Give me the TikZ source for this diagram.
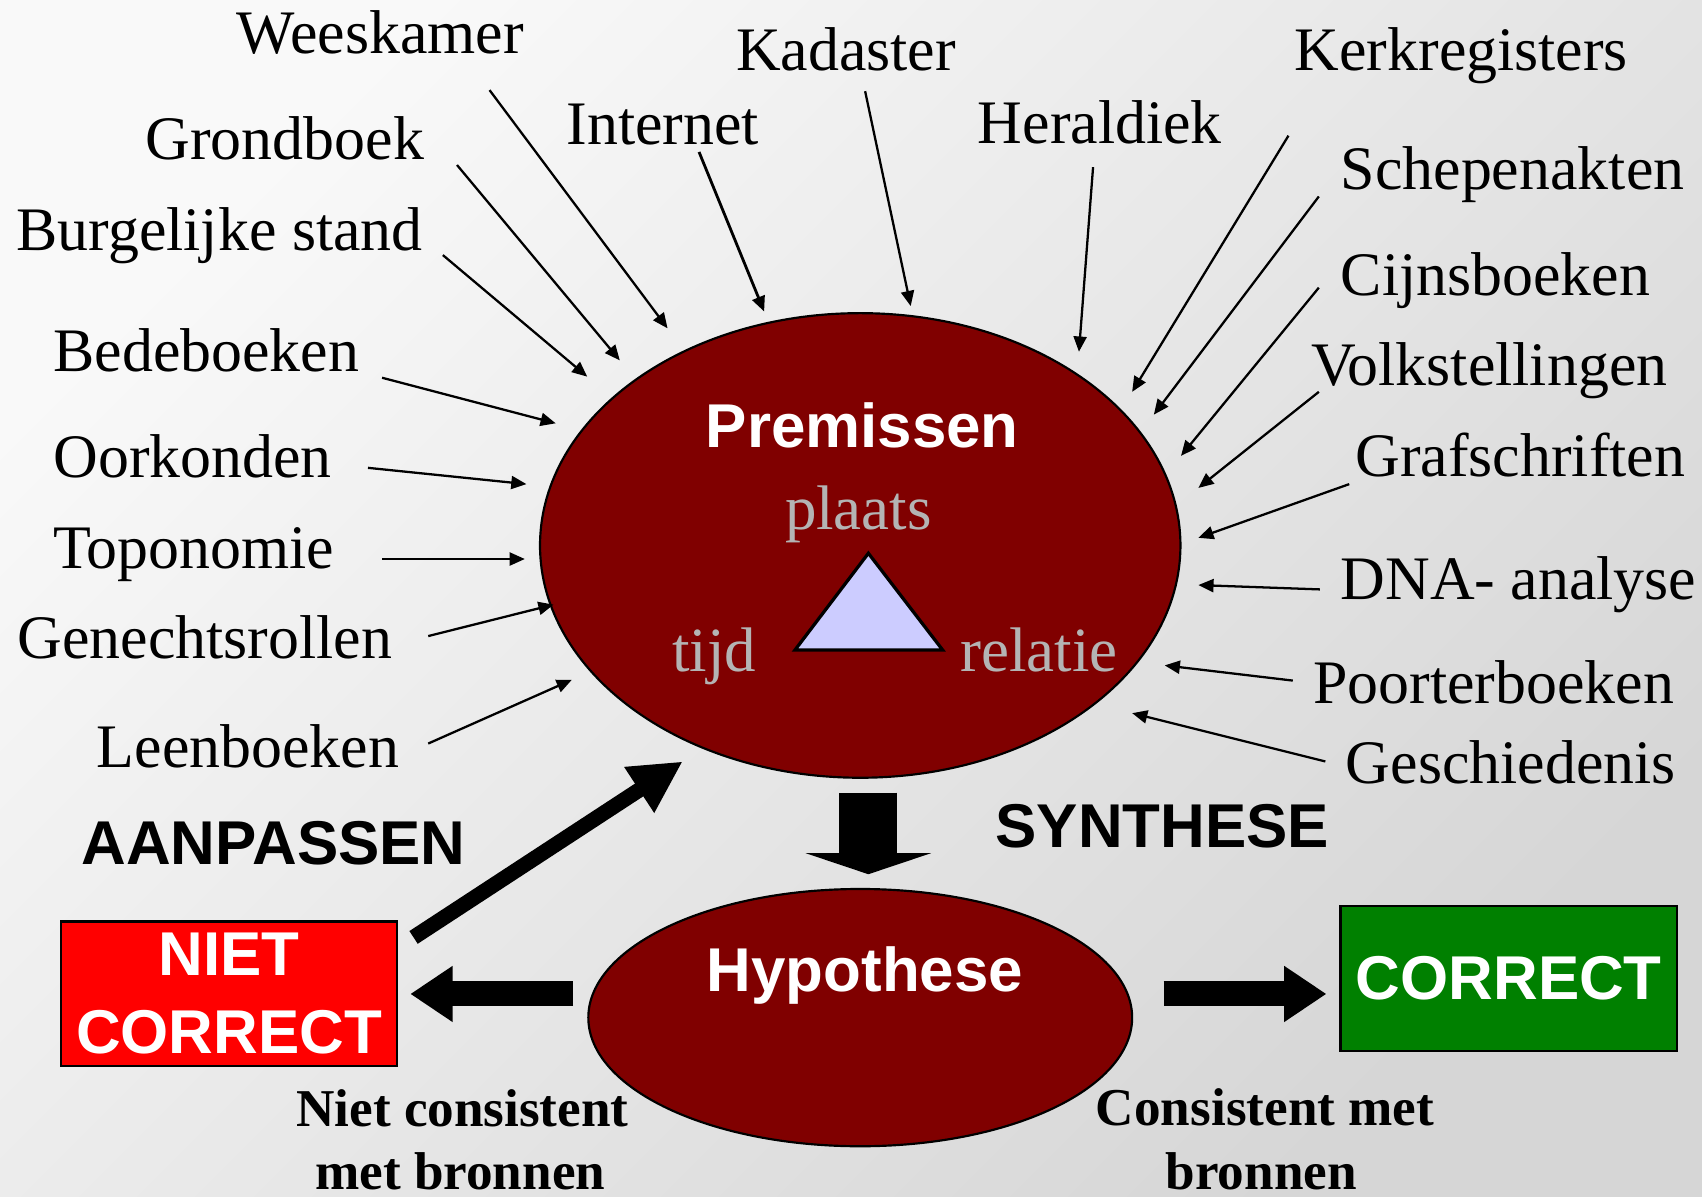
\documentclass[tikz,border=0pt]{standalone}
\usepackage{fontspec}
\setmainfont{Liberation Serif}
\setsansfont{Liberation Sans}
\usetikzlibrary{arrows.meta,shapes.geometric}
\definecolor{bgtop}{HTML}{F9F9F9}
\definecolor{bgmid}{HTML}{E6E6E6}
\definecolor{bgbot}{HTML}{D6D6D6}
\definecolor{darkred}{HTML}{800000}
\definecolor{lgray}{HTML}{B4B4B4}
\definecolor{lavender}{HTML}{CCCCFF}
\definecolor{boxgreen}{HTML}{008000}
\definecolor{boxred}{HTML}{FF0000}
\begin{document}
\begin{tikzpicture}[x=1pt,y=-1pt,
  src/.style={font=\fontsize{57}{60}\selectfont, anchor=base west, inner sep=0pt},
  inner/.style={font=\fontsize{58}{60}\selectfont, text=lgray, anchor=base west, inner sep=0pt},
  bigsans/.style={font=\sffamily\bfseries\fontsize{57}{72}\selectfont, inner sep=0pt},
  boldserif/.style={font=\bfseries\fontsize{49}{58}\selectfont, anchor=base, inner sep=0pt},
  feed/.style={line width=2.1pt, -{Triangle[length=14pt,width=12pt]}},
  blob/.style={ellipse, draw=black, line width=2pt, fill=darkred, inner sep=0pt},
]
\shade[top color=bgtop, middle color=bgmid, bottom color=bgbot, shading angle=45]
  (0,0) rectangle (1568,1102);
\useasboundingbox (0,0) rectangle (1568,1102);

% ellipses
\node[blob, minimum width=590pt, minimum height=428pt] (prem) at (792.5,502.5) {};
\node[blob, minimum width=501pt, minimum height=237pt] (hyp) at (792.5,937.5) {};

% triangle
\coordinate (tA) at (800,509.7);
\coordinate (tB) at (732.4,598.8);
\coordinate (tC) at (868.4,598.8);
\draw[line width=3pt, fill=lavender, line join=miter] (tA) -- (tB) -- (tC) -- cycle;

% texts in ellipses
\node[bigsans, text=white, anchor=base west] (premt) at (650,412.5) {Premissen};
\node[inner] (plaats) at (723,488) {plaats};
\node[inner] (tijd) at (619,619) {tijd};
\node[inner] (relatie) at (884.6,619) {relatie};
\node[bigsans, text=white, anchor=base west] (hypt) at (651,913) {Hypothese};

% source labels
\node[src] (weeskamer) at (218,49.4) {Weeskamer};
\node[src] (grondboek) at (134,147.4) {Grondboek};
\node[src] (burgelijke) at (15,231) {Burgelijke stand};
\node[src] (bedeboeken) at (49,342.7) {Bedeboeken};
\node[src] (oorkonden) at (49,440) {Oorkonden};
\node[src] (toponomie) at (49,524) {Toponomie};
\node[src] (genechts) at (16,607) {Genechtsrollen};
\node[src] (leenboeken) at (89,706.8) {Leenboeken};
\node[src] (internet) at (521.8,133.3) {Internet};
\node[src] (kadaster) at (678,64.5) {Kadaster};
\node[src] (heraldiek) at (900.7,132) {Heraldiek};
\node[src] (kerk) at (1192.6,64.5) {Kerkregisters};
\node[src] (schepen) at (1235,175) {Schepenakten};
\node[src] (cijns) at (1235,272.5) {Cijnsboeken};
\node[src] (volks) at (1207.6,355.4) {Volkstellingen};
\node[src] (graf) at (1248.6,439) {Grafschriften};
\node[src] (dna) at (1235,552) {DNA- analyse};
\node[src] (poorter) at (1209.6,648) {Poorterboeken};
\node[src] (gesch) at (1239.7,721.5) {Geschiedenis};

% feed arrow end points
\coordinate (weeskamer-s) at (451,83);   \coordinate (weeskamer-e) at (615,302.5);
\coordinate (grondboek-s) at (421,152);  \coordinate (grondboek-e) at (571,332);
\coordinate (burgelijke-s) at (408,235); \coordinate (burgelijke-e) at (541,347);
\coordinate (bedeboeken-s) at (352,348); \coordinate (bedeboeken-e) at (512,390);
\coordinate (oorkonden-s) at (339,431);  \coordinate (oorkonden-e) at (485,446);
\coordinate (toponomie-s) at (352,515);  \coordinate (toponomie-e) at (483.5,515);
\coordinate (genechts-s) at (394.5,586); \coordinate (genechts-e) at (510,557);
\coordinate (leenboeken-s) at (394.5,685); \coordinate (leenboeken-e) at (526.8,626.3);
\coordinate (internet-s) at (644,140);   \coordinate (internet-e) at (704,287);
\coordinate (kadaster-s) at (797,84);    \coordinate (kadaster-e) at (839,282);
\coordinate (heraldiek-s) at (1007,154); \coordinate (heraldiek-e) at (994,324);
\coordinate (kerk-s) at (1187,125);      \coordinate (kerk-e) at (1043,361);
\coordinate (schepen-s) at (1215,181);   \coordinate (schepen-e) at (1063,382);
\coordinate (cijns-s) at (1215,265);     \coordinate (cijns-e) at (1088,420);
\coordinate (volks-s) at (1215,361);     \coordinate (volks-e) at (1104,449.5);
\coordinate (graf-s) at (1243,446);      \coordinate (graf-e) at (1104,495.5);
\coordinate (dna-s) at (1216,543);       \coordinate (dna-e) at (1104,539);
\coordinate (poorter-s) at (1191,627);   \coordinate (poorter-e) at (1073,613);
\coordinate (gesch-s) at (1221,701.5);   \coordinate (gesch-e) at (1043,657);

\foreach \n in {weeskamer,grondboek,burgelijke,bedeboeken,oorkonden,toponomie,genechts,leenboeken,kadaster,heraldiek,kerk,schepen,cijns,volks,graf,dna,poorter,gesch}
  \draw[feed] (\n-s) -- (\n-e);
\draw[feed, line width=2.6pt] (internet-s) -- (internet-e);

% result boxes
\node[bigsans, draw=black, line width=2pt, fill=boxred, text=white, align=center,
      minimum width=310pt, minimum height=133pt] (niet) at (211,915.5) {NIET\\CORRECT};
\node[bigsans, draw=black, line width=2pt, fill=boxgreen, text=white,
      minimum width=310pt, minimum height=133pt] (correct) at (1390,901.5) {CORRECT};

% big arrows
\coordinate (syn-s) at (800,730.2);  \coordinate (syn-e) at (800,805.4);
\draw[line width=53.5pt, -{Triangle[length=19.4pt,width=115pt]}] (syn-s) -- (syn-e);
\coordinate (left-s) at (528,915.7); \coordinate (left-e) at (378,915.7);
\draw[line width=23pt, -{Triangle[length=39pt,width=49pt]}] (left-s) -- (left-e);
\coordinate (right-s) at (1072,915.7); \coordinate (right-e) at (1222,915.7);
\draw[line width=23pt, -{Triangle[length=39pt,width=49pt]}] (right-s) -- (right-e);
\coordinate (aan-s) at (381,863.6); \coordinate (aan-e) at (629,701.5);
\draw[line width=14pt, -{Triangle[length=48pt,width=47pt]}] (aan-s) -- (aan-e);

% arrow labels
\node[bigsans, anchor=base west] (aanpassen) at (75,796) {AANPASSEN};
\node[bigsans, anchor=base west] (synthese) at (917,781) {SYNTHESE};
\node[boldserif] (nc1) at (426,1038) {Niet consistent};
\node[boldserif] (nc2) at (424,1096) {met bronnen};
\node[boldserif] (c1) at (1165.5,1037) {Consistent met};
\node[boldserif] (c2) at (1162,1096) {bronnen};
\end{tikzpicture}
\end{document}
